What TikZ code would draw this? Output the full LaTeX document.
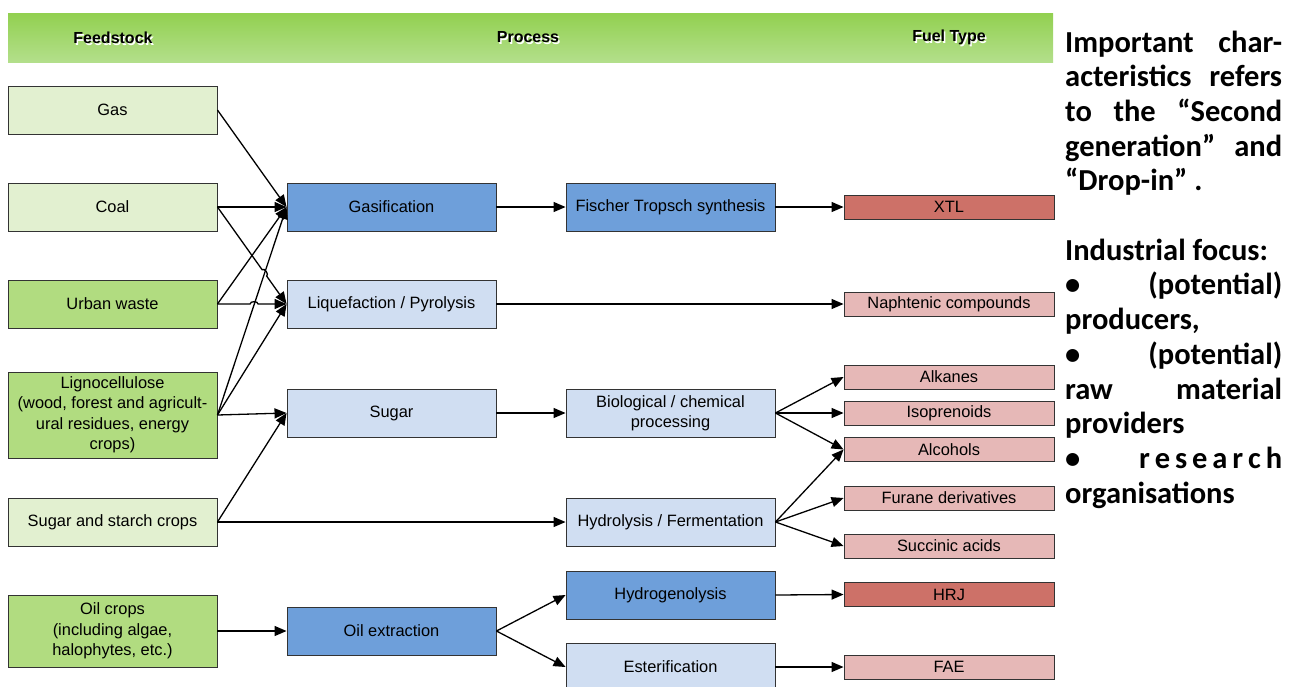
\documentclass[tikz,border=0pt]{standalone}
\usepackage{fontspec}
\setmainfont{Liberation Sans}
\newfontfamily\notefont{Carlito}
\usetikzlibrary{arrows.meta,calc}

\definecolor{feedLight}{HTML}{E2F0D0}
\definecolor{feedDark}{HTML}{B1DC80}
\definecolor{procDark}{HTML}{6E9FDA}
\definecolor{procLight}{HTML}{D0DEF2}
\definecolor{fuelDark}{HTML}{CD7168}
\definecolor{fuelLight}{HTML}{E6B8B7}
\definecolor{barTop}{HTML}{92D050}
\definecolor{barBottom}{HTML}{B3DF8B}

\begin{document}
\begin{tikzpicture}[x=1pt,y=-1pt,
  box/.style={draw=black!80, line width=0.9pt, inner sep=2pt, align=center,
    font=\fontsize{16.4}{20.5}\selectfont, minimum width=209pt},
  tall/.style={box, minimum height=48pt},
  feedL/.style={tall, fill=feedLight},
  feedD/.style={tall, fill=feedDark},
  procD/.style={tall, fill=procDark},
  procL/.style={tall, fill=procLight},
  fuelD/.style={box, fill=fuelDark, minimum width=210pt, minimum height=24pt, inner sep=0pt},
  fuelL/.style={box, fill=fuelLight, minimum width=210pt, minimum height=24pt, inner sep=0pt},
  head/.style={font=\fontsize{16}{19}\selectfont\bfseries, inner sep=0pt},
  flow/.style={line width=1.3pt, -{Triangle[length=12pt,width=10pt]}},
]
\useasboundingbox (0,0) rectangle (1295,686);
\clip (0,0) rectangle (1295,686);

% column header bar
\node[minimum width=1045pt, minimum height=49pt, inner sep=0pt,
      top color=barTop, bottom color=barBottom] (bar) at (530.5,37.5) {};
\node[head, text=white] (feedS) at (114.5,39.5) {Feedstock};
\node[head, text=white] (procS) at (529.5,39.5) {Process};
\node[head, text=white] (fuelS) at (950.5,39.5) {Fuel Type};
\node[head] (feedH) at (113,37.5) {Feedstock};
\node[head] (procH) at (528,37.5) {Process};
\node[head] (fuelH) at (949,37.5) {Fuel Type};

% feedstocks
\node[feedL] (gas)    at (112.5,110) {Gas};
\node[feedL] (coal)   at (112.5,207) {Coal};
\node[feedD] (urban)  at (112.5,304) {Urban waste};
\node[feedD, minimum height=86pt] (ligno) at (112.5,415)
  {Lignocellulose\\(wood, forest and agricult-\\ural residues, energy\\crops)};
\node[feedL] (starch) at (112.5,522) {Sugar and starch crops};
\node[feedD, minimum height=72pt] (oilcrops) at (112.5,631)
  {Oil crops\\(including algae,\\halophytes, etc.)};

% first process stage
\node[procD] (gasif)  at (391.5,207) {Gasification};
\node[procL] (liq)    at (391.5,304) {Liquefaction / Pyrolysis};
\node[procL] (sugar)  at (391.5,413) {Sugar};
\node[procD] (oilext) at (391.5,631) {Oil extraction};

% second process stage
\node[procD] (ft)       at (670.5,207) {Fischer Tropsch synthesis};
\node[procL] (biochem)  at (670.5,413) {Biological / chemical\\processing};
\node[procL] (hydrol)   at (670.5,522) {Hydrolysis / Fermentation};
\node[procD] (hydrogen) at (670.5,595) {Hydrogenolysis};
\node[procL] (ester)    at (670.5,667) {Esterification};

% fuel types
\node[fuelD] (xtl)  at (949,207)   {XTL};
\node[fuelL] (naph) at (949,304)   {Naphtenic compounds};
\node[fuelL] (alk)  at (949,377)   {Alkanes};
\node[fuelL] (iso)  at (949,413)   {Isoprenoids};
\node[fuelL] (alc)  at (949,449.5) {Alcohols};
\node[fuelL] (fur)  at (949,498)   {Furane derivatives};
\node[fuelL] (succ) at (949,546)   {Succinic acids};
\node[fuelD] (hrj)  at (949,594.5) {HRJ};
\node[fuelL] (fae)  at (949,667)   {FAE};

% feedstock -> first stage
\draw[flow] (gas.east) -- (gasif.west);
\draw[flow] (coal.east) -- (gasif.west);
\coordinate (hopA) at ($(coal.east)!0.679!(liq.west)$);
\draw[flow] (coal.east) -- ($(hopA)!4pt!(coal.east)$)
  to[bend left=90] ($(hopA)!4pt!(liq.west)$) -- (liq.west);
\draw[flow] (urban.east) -- (gasif.west);
\coordinate (hopB) at ($(urban.east)!0.53!(liq.west)$);
\draw[flow] (urban.east) -- ($(hopB)!4pt!(urban.east)$)
  to[bend left=90] ($(hopB)!4pt!(liq.west)$) -- (liq.west);
\draw[flow] (ligno.east) -- (gasif.west);
\draw[flow] (ligno.east) -- (liq.west);
\draw[flow] (ligno.east) -- (sugar.west);
\draw[flow] (starch.east) -- (sugar.west);
\draw[flow] (starch.east) -- (hydrol.west);
\draw[flow] (oilcrops.east) -- (oilext.west);

% first stage -> second stage / fuels
\draw[flow] (gasif.east) -- (ft.west);
\draw[flow] (liq.east) -- (naph.west);
\draw[flow] (sugar.east) -- (biochem.west);
\draw[flow] (oilext.east) -- (hydrogen.west);
\draw[flow] (oilext.east) -- (ester.west);

% second stage -> fuels
\draw[flow] (ft.east) -- (xtl.west);
\draw[flow] (biochem.east) -- (alk.west);
\draw[flow] (biochem.east) -- (iso.west);
\draw[flow] (biochem.east) -- (alc.west);
\draw[flow] (hydrol.east) -- (alc.west);
\draw[flow] (hydrol.east) -- (fur.west);
\draw[flow] (hydrol.east) -- (succ.west);
\draw[flow] (hydrogen.east) -- (hrj.west);
\draw[flow] (ester.east) -- (fae.west);

% side note
\node[anchor=base west, inner sep=0pt] (note) at (1065,52) {\parbox[t]{217pt}{%
  \notefont\bfseries\fontsize{30.5}{34.7}\selectfont
  \hbox to 217pt{Important\hfill char-}
  \hbox to 217pt{acteristics\hfill refers}
  \hbox to 217pt{to\hfill the\hfill “Second}
  \hbox to 217pt{generation”\hfill and}
  \hbox{“Drop-in” .}
  \hbox{}
  \hbox{Industrial focus:}
  \hbox to 217pt{•\hfill (potential)}
  \hbox{producers,}
  \hbox to 217pt{•\hfill (potential)}
  \hbox to 217pt{raw\hfill material}
  \hbox{providers}
  \hbox to 217pt{•\hfill\hbox to 143pt{r\hfill e\hfill s\hfill e\hfill a\hfill r\hfill c\hfill h}}
  \hbox{organisations}}};
\end{tikzpicture}
\end{document}
